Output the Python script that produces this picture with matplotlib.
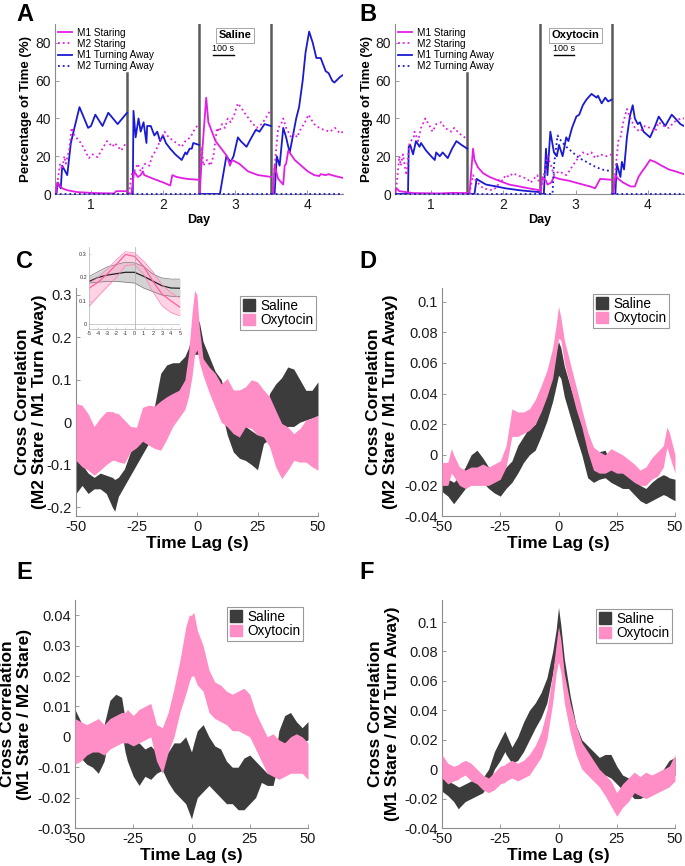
import numpy as np
import matplotlib
matplotlib.use('Agg')
import matplotlib.pyplot as plt
from matplotlib.patches import Patch
from matplotlib.lines import Line2D

plt.rcParams['font.family'] = ['Liberation Sans', 'DejaVu Sans']
plt.rcParams['axes.unicode_minus'] = False

MAGENTA = '#e31ee3'
BLUE = '#1a1ad0'
DARK = '#3c3c3c'
PINK = '#ff8ec6'
SPINE = '#8c8c8c'
SEP = '#5a5a5a'
TXT = '#1a1a1a'

# ---------------- Panel A / B data (x in days) ----------------
DAYS = [1, 2, 3, 4]
SEP_POS = [1.5, 2.5, 3.5]
SEP_TOP = [64, 90, 90]
SERIES_LABELS = ['M1 Staring', 'M2 Staring', 'M1 Turning Away', 'M2 Turning Away']

A_M1_STARE_X = [
    [0.51, 0.53, 0.60, 0.67, 0.81, 1.04, 1.32, 1.35, 1.50],
    [1.53, 1.56, 1.60, 1.65, 1.69, 1.72, 1.74, 1.87, 2.01, 2.10, 2.13, 2.19, 2.33, 2.50],
    [2.51, 2.54, 2.60, 2.63, 2.73, 2.89, 2.93, 2.96, 3.06, 3.18, 3.32, 3.42, 3.50],
    [3.53, 3.55, 3.60, 3.67, 3.69, 3.71, 3.74, 3.83, 3.92, 4.01, 4.10, 4.17, 4.19, 4.26, 4.30, 4.39, 4.50]]
A_M1_STARE_Y = [
    [0, 6, 3, 2, 1, 0.5, 0.3, 1.5, 1.5],
    [0, 0, 12, 9, 10, 12, 10, 8, 6, 4.5, 10, 9, 8, 7.5],
    [0, 20, 51, 38, 28, 20, 15, 18, 16, 12, 10, 9.5, 9],
    [0, 15, 8, 5, 15, 16, 23, 18, 15, 12, 10, 9.5, 10.5, 10, 10.5, 9.5, 8.5]]

A_M2_STARE_X = [
    [0.51, 0.53, 0.57, 0.60, 0.63, 0.65, 0.70, 0.73, 0.77, 0.86, 0.93, 0.97, 1.02, 1.09, 1.13, 1.22, 1.30, 1.33, 1.42, 1.47, 1.50],
    [1.53, 1.56, 1.60, 1.65, 1.69, 1.75, 1.81, 1.85, 1.90, 1.97, 2.02, 2.08, 2.15, 2.22, 2.26, 2.31, 2.38, 2.45, 2.50],
    [2.51, 2.52, 2.54, 2.56, 2.61, 2.66, 2.70, 2.75, 2.78, 2.82, 2.86, 2.90, 2.94, 2.99, 3.04, 3.08, 3.15, 3.23, 3.30, 3.37, 3.44, 3.50],
    [3.52, 3.55, 3.60, 3.64, 3.67, 3.71, 3.78, 3.83, 3.86, 3.92, 3.96, 4.02, 4.05, 4.10, 4.17, 4.23, 4.32, 4.39, 4.46, 4.50]]
A_M2_STARE_Y = [
    [0, 5, 16, 13, 20, 16, 24, 35, 31, 27, 22, 19, 21, 19.5, 22, 28, 25, 27, 23, 26, 26],
    [0, 10, 12, 16, 12, 16, 15, 20, 23, 29, 33, 30, 28, 26, 25, 28, 30, 35, 37],
    [0, 20, 25, 15, 18, 15, 20, 35, 33, 37, 35, 40, 38, 42, 48, 46, 42, 38, 35, 37, 41, 45],
    [0, 15, 35, 37, 40, 35, 30, 32, 30, 35, 37, 42, 40, 37, 35, 34, 33, 35, 32, 33]]

A_M1_TURN_X = [
    [0.52, 0.54, 0.58, 0.60, 0.67, 0.72, 0.77, 0.84, 0.96, 1.00, 1.06, 1.16, 1.24, 1.37, 1.50],
    [1.51, 1.58, 1.59, 1.62, 1.66, 1.69, 1.73, 1.77, 1.78, 1.83, 1.88, 1.92, 1.96, 2.00, 2.04, 2.10, 2.17, 2.26, 2.31, 2.33, 2.37, 2.40, 2.42, 2.50],
    [2.50, 2.79, 2.88, 2.94, 2.98, 3.01, 3.04, 3.08, 3.16, 3.23, 3.29, 3.34, 3.41, 3.50],
    [3.50, 3.55, 3.58, 3.62, 3.67, 3.71, 3.74, 3.76, 3.80, 3.85, 3.89, 3.94, 3.98, 4.03, 4.08, 4.13, 4.19, 4.26, 4.30, 4.35, 4.38, 4.46, 4.50]]
A_M1_TURN_Y = [
    [0, 6, 3, 15, 10, 27, 35, 46, 35, 36, 42, 36, 43, 37, 43],
    [0, 0, 44, 30, 40, 33, 38, 27, 36, 36, 31, 33, 28, 31, 27, 24, 21, 18, 22, 21, 24, 24, 27, 26],
    [0, 0, 20, 17, 20, 25, 30, 28, 25, 30, 34, 33, 37, 36],
    [0, 0, 20, 15, 35, 30, 25, 22, 30, 40, 46, 60, 75, 86, 80, 72, 72, 65, 64, 60, 59, 62, 63]]

A_M2_TURN_X = [[0.5, 1.5], [1.5, 2.5], [2.5, 3.5], [3.5, 4.5]]
A_M2_TURN_Y = [[0, 0], [0, 0], [0, 0], [0, 0]]

B_M1_STARE_X = [
    [0.50, 0.52, 0.56, 0.75, 1.12, 1.30, 1.50],
    [1.53, 1.58, 1.60, 1.65, 1.72, 1.81, 1.94, 2.08, 2.22, 2.35, 2.50],
    [2.51, 2.54, 2.59, 2.61, 2.66, 2.70, 2.77, 2.91, 3.05, 3.20, 3.27, 3.34, 3.50],
    [3.52, 3.55, 3.59, 3.66, 3.76, 3.82, 3.87, 3.92, 3.96, 4.03, 4.10, 4.19, 4.29, 4.38, 4.50]]
B_M1_STARE_Y = [
    [0, 3, 1.5, 0.5, 0.3, 0.6, 0.5],
    [0, 24, 18, 14, 11, 9, 7, 5, 4, 3, 2],
    [0, 9, 7, 5, 6, 9, 8, 7, 5.5, 4, 3, 8, 7.5],
    [0, 10, 8, 6, 4, 4, 9, 12, 14, 18, 17, 15, 13, 12, 10.5]]

B_M2_STARE_X = [
    [0.51, 0.54, 0.56, 0.58, 0.61, 0.63, 0.66, 0.70, 0.76, 0.77, 0.82, 0.86, 0.92, 0.98, 1.02, 1.07, 1.14, 1.19, 1.28, 1.32, 1.39, 1.50],
    [1.53, 1.58, 1.62, 1.72, 1.85, 1.92, 1.94, 1.99, 2.03, 2.08, 2.13, 2.19, 2.26, 2.33, 2.38, 2.42, 2.47, 2.50],
    [2.51, 2.55, 2.61, 2.66, 2.70, 2.77, 2.87, 2.91, 2.96, 3.05, 3.10, 3.17, 3.22, 3.27, 3.34, 3.43, 3.50],
    [3.52, 3.59, 3.62, 3.66, 3.71, 3.76, 3.82, 3.89, 3.96, 4.03, 4.10, 4.15, 4.22, 4.29, 4.36, 4.45, 4.50]]
B_M2_STARE_Y = [
    [0, 12, 20, 15, 21, 16, 10, 27, 30, 33, 28, 35, 40, 36, 33, 37, 38, 35, 33, 35, 32, 29],
    [0, 10, 7, 3, 2, 4, 8, 7, 10, 9, 11, 10, 9, 8, 6, 8, 10, 5],
    [0, 8, 20, 15, 10, 12, 10, 12, 15, 20, 22, 21, 22, 19, 21, 20, 21],
    [0, 28, 30, 38, 45, 40, 35, 33, 36, 35, 33, 38, 36, 35, 38, 40, 40]]

B_M1_TURN_X = [
    [0.50, 0.68, 0.69, 0.71, 0.75, 0.79, 0.84, 0.86, 0.93, 1.00, 1.05, 1.07, 1.12, 1.16, 1.23, 1.29, 1.35, 1.42, 1.50],
    [1.53, 1.60, 1.63, 1.67, 1.76, 1.90, 2.03, 2.22, 2.35, 2.50],
    [2.50, 2.56, 2.59, 2.61, 2.65, 2.70, 2.74, 2.77, 2.82, 2.87, 2.90, 2.95, 3.01, 3.05, 3.10, 3.15, 3.22, 3.29, 3.31, 3.36, 3.41, 3.45, 3.50],
    [3.50, 3.55, 3.57, 3.62, 3.64, 3.67, 3.71, 3.75, 3.79, 3.82, 3.86, 3.89, 3.94, 4.03, 4.10, 4.15, 4.24, 4.33, 4.38, 4.45, 4.50]]
B_M1_TURN_Y = [
    [0, 0, 25, 26, 21, 28, 25, 27, 23, 20, 18, 22, 20, 22, 19, 24, 28, 26, 24],
    [0, 0, 8, 7, 5, 4, 3, 2, 1.5, 1],
    [0, 0, 24, 10, 33, 22, 20, 26, 20, 30, 28, 35, 41, 42, 47, 50, 53, 51, 52, 48, 51, 49, 50],
    [0, 0, 16, 9, 17, 13, 30, 41, 47, 40, 37, 38, 33, 30, 36, 41, 36, 42, 40, 37, 36]]

B_M2_TURN_X = [[0.5, 1.5], [1.5, 2.5],
               [2.50, 2.68, 2.70, 2.75, 2.80, 2.87, 2.96, 3.05, 3.15, 3.24, 3.36, 3.50],
               [3.5, 4.5]]
B_M2_TURN_Y = [[0, 0], [0, 0],
               [0, 0, 15, 31, 28, 25, 22, 19, 17, 15, 13, 12],
               [0, 0]]

# ---------------- Panel C ----------------
LAG_C = [-50, -47.5, -45, -42.5, -40, -37.5, -35, -34, -32.5, -30, -27.5, -25, -22.5, -20, -17.5, -15,
         -12.5, -10, -7.5, -5, -3.5, -2, -1, 0, 1, 2.5, 5, 7.5, 10, 12.5, 15, 17.5, 20, 22.5, 25,
         27.5, 30, 32.5, 35, 37.5, 40, 42.5, 45, 47.5, 50]
C_SAL_LO = [-0.168, -0.149, -0.168, -0.157, -0.157, -0.168, -0.20, -0.21, -0.175, -0.15, -0.125, -0.10,
            -0.075, -0.05, -0.02, 0.03, 0.05, 0.06, 0.07, 0.09, 0.11, 0.14, 0.16, 0.16, 0.16, 0.12, 0.08,
            0.05, 0.03, -0.03, -0.07, -0.085, -0.09, -0.10, -0.112, -0.05, -0.04, -0.035, -0.02, -0.01,
            -0.01, 0.0, 0.005, 0.01, 0.015]
C_SAL_HI = [-0.09, -0.10, -0.12, -0.13, -0.12, -0.125, -0.13, -0.135, -0.13, -0.11, -0.07, -0.05, -0.03,
            0.0, 0.04, 0.115, 0.135, 0.14, 0.14, 0.155, 0.175, 0.21, 0.24, 0.245, 0.235, 0.19, 0.155,
            0.12, 0.10, 0.05, -0.015, -0.02, -0.01, -0.02, -0.03, 0.0, 0.068, 0.09, 0.105, 0.13, 0.125,
            0.10, 0.075, 0.075, 0.095]
C_OXY_LO = [-0.09, -0.105, -0.113, -0.125, -0.113, -0.10, -0.09, -0.09, -0.094, -0.097, -0.07, -0.06,
            -0.045, -0.054, -0.062, -0.066, -0.04, -0.01, 0.01, 0.03, 0.06, 0.11, 0.16, 0.17, 0.14,
            0.11, 0.07, 0.035, 0.0, -0.011, -0.027, -0.035, -0.011, -0.015, -0.03, -0.035, -0.058,
            -0.105, -0.133, -0.113, -0.09, -0.094, -0.094, -0.105, -0.113]
C_OXY_HI = [0.044, 0.04, 0.02, -0.01, 0.01, 0.025, 0.025, 0.022, 0.02, 0.005, -0.01, -0.012, 0.035,
            0.04, 0.038, 0.05, 0.06, 0.068, 0.075, 0.10, 0.16, 0.26, 0.31, 0.30, 0.22, 0.15, 0.13,
            0.115, 0.09, 0.103, 0.076, 0.076, 0.083, 0.10, 0.095, 0.076, 0.06, 0.028, -0.003, -0.011,
            -0.027, -0.015, 0.005, 0.009, 0.017]

# inset of C (lag -5..5)
INSET_LAG = [-5, -4, -3, -2, -1, 0, 1, 2, 3, 4, 5]
INSET_SAL_MEAN = [0.183, 0.20, 0.21, 0.216, 0.222, 0.222, 0.205, 0.185, 0.165, 0.155, 0.154]
INSET_SAL_HI = [0.204, 0.225, 0.245, 0.255, 0.265, 0.262, 0.247, 0.215, 0.198, 0.193, 0.193]
INSET_SAL_LO = [0.176, 0.18, 0.183, 0.183, 0.18, 0.176, 0.155, 0.14, 0.125, 0.12, 0.118]
INSET_OXY_MEAN = [0.154, 0.18, 0.215, 0.255, 0.298, 0.29, 0.247, 0.185, 0.13, 0.10, 0.073]
INSET_OXY_HI = [0.176, 0.20, 0.235, 0.275, 0.31, 0.305, 0.27, 0.225, 0.17, 0.135, 0.111]
INSET_OXY_LO = [0.076, 0.12, 0.16, 0.20, 0.25, 0.255, 0.215, 0.14, 0.08, 0.05, 0.036]

# ---------------- Panel D ----------------
LAG_D = [-50, -47.5, -46, -45, -42.5, -40, -37.5, -35, -32.5, -30, -27.5, -25, -22.5, -20, -17.5, -15,
         -12.5, -10, -7.5, -5, -2.5, -1, 0, 1, 2.5, 5, 7.5, 10, 12.5, 15, 17.5, 20, 22.5, 25, 27.5, 30,
         32.5, 35, 37.5, 40, 42.5, 45, 46.5, 47.5, 50]
D_SAL_LO = [-0.024, -0.027, -0.03, -0.032, -0.027, -0.022, -0.018, -0.015, -0.018, -0.022, -0.025, -0.027,
            -0.022, -0.018, -0.012, -0.005, 0.0, 0.003, 0.012, 0.022, 0.035, 0.045, 0.052, 0.05, 0.038,
            0.025, 0.012, 0.0, -0.015, -0.018, -0.016, -0.015, -0.018, -0.02, -0.022, -0.022, -0.026,
            -0.03, -0.032, -0.03, -0.028, -0.026, -0.027, -0.028, -0.03]
D_SAL_HI = [-0.0065, -0.016, -0.017, -0.018, -0.014, -0.008, 0.0, 0.003, -0.002, -0.008, -0.01, -0.012,
            -0.008, -0.004, 0.006, 0.012, 0.018, 0.02, 0.03, 0.042, 0.055, 0.068, 0.074, 0.07, 0.058,
            0.045, 0.032, 0.02, 0.005, -0.002, 0.002, 0.003, -0.005, -0.008, -0.01, -0.012, -0.016,
            -0.02, -0.022, -0.018, -0.015, -0.013, -0.014, -0.015, -0.016]
D_OXY_LO = [-0.02, -0.02, -0.012, -0.014, -0.02, -0.022, -0.02, -0.02, -0.02, -0.02, -0.018, -0.016,
            -0.008, 0.012, 0.012, 0.014, 0.016, 0.02, 0.028, 0.038, 0.05, 0.065, 0.076, 0.075, 0.06,
            0.045, 0.03, 0.018, 0.002, -0.01, -0.012, -0.012, -0.01, -0.012, -0.012, -0.015, -0.018,
            -0.02, -0.02, -0.016, -0.014, -0.008, 0.005, 0.0, -0.012]
D_OXY_HI = [-0.005, -0.005, 0.004, 0.0, -0.008, -0.01, -0.008, -0.008, -0.006, -0.008, -0.006, -0.004,
            0.006, 0.03, 0.028, 0.028, 0.03, 0.036, 0.045, 0.055, 0.07, 0.085, 0.097, 0.09, 0.075,
            0.06, 0.045, 0.03, 0.015, 0.005, 0.002, 0.0, 0.004, 0.002, 0.0, -0.003, -0.006, -0.01,
            -0.008, -0.002, 0.002, 0.006, 0.018, 0.015, 0.0]

# ---------------- Panel E ----------------
LAG_E = [-50, -47.5, -45, -42.5, -40, -37.5, -35, -32.5, -30, -28.5, -27.5, -25, -22.5, -20, -17.5, -15,
         -12.5, -10, -7.5, -5, -2.5, -1, 0, 1, 2.5, 5, 7.5, 10, 12.5, 15, 17.5, 20, 22.5, 25, 27.5, 30,
         32.5, 35, 37.5, 40, 42.5, 45, 47.5, 50]
E_SAL_LO = [-0.006, -0.007, -0.009, -0.01, -0.012, -0.008, 0.002, 0.004, 0.002, -0.005, -0.008, -0.013,
            -0.016, -0.013, -0.014, -0.012, -0.011, -0.015, -0.018, -0.02, -0.022, -0.025, -0.027,
            -0.024, -0.02, -0.018, -0.016, -0.018, -0.02, -0.022, -0.022, -0.024, -0.024, -0.022,
            -0.02, -0.015, -0.016, -0.016, -0.008, -0.002, -0.001, -0.001, -0.002, -0.001]
E_SAL_HI = [0.009, 0.005, 0.002, 0.0, -0.002, 0.004, 0.012, 0.014, 0.013, 0.006, 0.0, -0.002, -0.002,
            -0.004, -0.003, -0.005, -0.008, -0.005, -0.002, -0.002, 0.0, -0.003, -0.005, -0.002, 0.002,
            0.004, 0.0, -0.003, -0.004, -0.008, -0.01, -0.01, -0.007, -0.006, -0.008, -0.01, -0.012,
            -0.012, 0.002, 0.007, 0.008, 0.005, 0.003, 0.005]
E_OXY_LO = [-0.009, -0.008, -0.006, -0.005, -0.005, -0.006, -0.004, -0.003, -0.002, -0.002, -0.002,
            -0.003, -0.002, -0.001, 0.0, -0.008, -0.012, -0.005, 0.0, 0.008, 0.014, 0.018, 0.02, 0.02,
            0.017, 0.015, 0.008, 0.006, 0.005, 0.004, 0.002, 0.002, 0.001, 0.0, -0.004, -0.008, -0.012,
            -0.013, -0.014, -0.013, -0.012, -0.012, -0.012, -0.014]
E_OXY_HI = [0.006, 0.005, 0.004, 0.005, 0.006, 0.004, 0.006, 0.007, 0.008, 0.008, 0.009, 0.007, 0.009,
            0.01, 0.011, 0.004, 0.003, 0.008, 0.016, 0.025, 0.036, 0.04, 0.04, 0.041, 0.035, 0.03,
            0.022, 0.018, 0.017, 0.015, 0.014, 0.015, 0.016, 0.014, 0.008, 0.004, 0.0, 0.001, -0.001,
            -0.002, 0.0, 0.001, 0.0, -0.002]

# ---------------- Panel F ----------------
LAG_F = [-50, -47.5, -45, -43, -42.5, -40, -37.5, -35, -32.5, -30, -27.5, -25, -23, -22.5, -20, -17.5,
         -15, -12.5, -10, -7.5, -5, -2.5, -1, 0, 1, 2.5, 5, 7.5, 10, 12.5, 15, 17.5, 20, 22.5, 25, 27.5,
         30, 32.5, 35, 37.5, 40, 42.5, 45, 47.5, 50]
F_SAL_LO = [-0.015, -0.018, -0.022, -0.027, -0.026, -0.022, -0.02, -0.018, -0.016, -0.01, 0.0, 0.006,
            0.012, 0.01, 0.004, 0.006, 0.012, 0.02, 0.028, 0.035, 0.045, 0.065, 0.08, 0.09, 0.075, 0.055,
            0.032, 0.012, 0.005, 0.002, -0.002, -0.004, -0.004, -0.006, -0.01, -0.014, -0.016, -0.02,
            -0.02, -0.018, -0.016, -0.012, -0.01, -0.006, -0.004]
F_SAL_HI = [-0.005, -0.008, -0.01, -0.012, -0.012, -0.01, -0.008, -0.006, -0.006, 0.0, 0.012, 0.02,
            0.026, 0.024, 0.015, 0.022, 0.032, 0.04, 0.045, 0.052, 0.062, 0.08, 0.095, 0.11, 0.098,
            0.075, 0.05, 0.03, 0.02, 0.016, 0.012, 0.008, 0.01, 0.01, 0.002, -0.004, -0.006, -0.008,
            -0.006, -0.008, -0.006, -0.004, 0.0, 0.006, 0.008]
F_OXY_LO = [-0.006, -0.01, -0.008, -0.007, -0.006, -0.004, -0.008, -0.01, -0.014, -0.016, -0.014, -0.01,
            -0.009, -0.008, -0.006, -0.008, -0.006, -0.004, 0.002, 0.008, 0.02, 0.045, 0.065, 0.073,
            0.066, 0.045, 0.025, 0.01, 0.0, -0.004, -0.008, -0.012, -0.018, -0.025, -0.032, -0.026,
            -0.022, -0.016, -0.018, -0.02, -0.018, -0.016, -0.014, -0.012, -0.008]
F_OXY_HI = [0.01, 0.004, 0.002, 0.003, 0.004, 0.006, 0.004, 0.0, -0.004, -0.006, -0.002, 0.002, 0.003,
            0.004, 0.006, 0.004, 0.006, 0.01, 0.016, 0.025, 0.04, 0.065, 0.085, 0.097, 0.088, 0.065,
            0.045, 0.03, 0.018, 0.012, 0.006, 0.0, -0.004, -0.008, -0.016, -0.01, -0.006, -0.002,
            -0.005, -0.002, -0.004, -0.002, 0.0, 0.002, 0.01]

GROUP_LABELS = ['Saline', 'Oxytocin']
LAG_TICKS = [-50, -25, 0, 25, 50]

# =============================================================
fig = plt.figure(figsize=(6.85, 8.66), dpi=100)
W, H = 685.0, 866.0


def ax_px(left, top, right, bottom):
    return fig.add_axes([left / W, 1 - bottom / H, (right - left) / W, (bottom - top) / H])


def style_axes(ax, fs):
    for s in ['top', 'right']:
        ax.spines[s].set_visible(False)
    for s in ['left', 'bottom']:
        ax.spines[s].set_color(SPINE)
        ax.spines[s].set_linewidth(0.8)
    ax.tick_params(direction='in', length=3, width=0.6, color=SPINE, labelcolor=TXT,
                   labelsize=fs, pad=3)


def segs(xs, ys):
    x, y = [], []
    for sx, sy in zip(xs, ys):
        x += list(sx) + [np.nan]
        y += list(sy) + [np.nan]
    return x, y


def time_panel(ax, m1s, m2s, m1t, m2t, tag, ylabel_x):
    style_axes(ax, 10)
    ax.set_xlim(0.5, 4.5)
    ax.set_ylim(0, 90)
    for xpos, top in zip(SEP_POS, SEP_TOP):
        ax.plot([xpos, xpos], [0, top], color=SEP, lw=1.8, zorder=1)
    ax.plot(*segs(*m2t), color=BLUE, lw=1.3, ls=':', zorder=6, clip_on=False)
    ax.plot(*segs(*m1t), color=BLUE, lw=1.3, zorder=3)
    ax.plot(*segs(*m2s), color=MAGENTA, lw=1.3, ls=':', zorder=4)
    ax.plot(*segs(*m1s), color=MAGENTA, lw=1.3, zorder=5)
    ax.set_xticks(DAYS)
    ax.set_yticks([0, 20, 40, 60, 80])
    ax.set_xlabel('Day', fontsize=9, fontweight='bold', labelpad=1)
    ax.set_ylabel('Percentage of Time (%)', fontsize=9.5, fontweight='bold')
    ax.yaxis.set_label_coords(ylabel_x, 0.5)
    handles = [Line2D([], [], color=MAGENTA, lw=1.3),
               Line2D([], [], color=MAGENTA, lw=1.3, ls=':'),
               Line2D([], [], color=BLUE, lw=1.3),
               Line2D([], [], color=BLUE, lw=1.3, ls=':')]
    ax.legend(handles, SERIES_LABELS, loc='upper left', bbox_to_anchor=(0.012, 0.978),
              frameon=False, fontsize=7.2, handlelength=1.4, handletextpad=0.5,
              labelspacing=0.12, borderaxespad=0, borderpad=0)
    ax.text(3.0, 84, tag, ha='center', va='center', fontsize=8, fontweight='bold', zorder=7,
            bbox=dict(boxstyle='square,pad=0.2', fc='white', ec='#999999', lw=0.6))
    ax.text(2.84, 74.5, '100 s', ha='center', va='bottom', fontsize=6.5, zorder=7)
    ax.plot([2.70, 2.98], [73.5, 73.5], color='k', lw=1.0, zorder=7)


axA = ax_px(55, 24, 343, 194)
time_panel(axA, (A_M1_STARE_X, A_M1_STARE_Y), (A_M2_STARE_X, A_M2_STARE_Y),
           (A_M1_TURN_X, A_M1_TURN_Y), (A_M2_TURN_X, A_M2_TURN_Y), 'Saline', -0.08)
axB = ax_px(395, 24, 684, 194)
time_panel(axB, (B_M1_STARE_X, B_M1_STARE_Y), (B_M2_STARE_X, B_M2_STARE_Y),
           (B_M1_TURN_X, B_M1_TURN_Y), (B_M2_TURN_X, B_M2_TURN_Y), 'Oxytocin', -0.075)


def cc_panel(ax, lag, slo, shi, olo, ohi, yticks, ylim, ylabel, label_x, leg_px):
    style_axes(ax, 10.5)
    ax.fill_between(lag, slo, shi, color=DARK, lw=0, zorder=2)
    ax.fill_between(lag, olo, ohi, color=PINK, lw=0, zorder=3)
    ax.set_xlim(-50, 50)
    ax.set_ylim(*ylim)
    ax.set_xticks(LAG_TICKS)
    ax.set_xticklabels(['%g' % t for t in LAG_TICKS])
    ax.set_yticks(yticks)
    ax.set_yticklabels(['%g' % t for t in yticks])
    ax.set_xlabel('Time Lag (s)', fontsize=12.5, fontweight='bold', labelpad=1)
    ax.set_ylabel(ylabel, fontsize=12.5, fontweight='bold', linespacing=1.15)
    ax.yaxis.set_label_coords(label_x, 0.5)
    handles = [Patch(color=DARK), Patch(color=PINK)]
    leg = ax.legend(handles, GROUP_LABELS, loc='upper right',
                    bbox_to_anchor=(leg_px[0] / W, 1 - leg_px[1] / H), bbox_transform=fig.transFigure,
                    fontsize=9.8, frameon=True, fancybox=False, framealpha=1, edgecolor='#9a9a9a',
                    borderpad=0.2, handlelength=0.9, handleheight=0.9, handletextpad=0.35,
                    labelspacing=0.05, borderaxespad=0)
    leg.get_frame().set_linewidth(0.8)


axC = ax_px(76, 288, 318, 516)
cc_panel(axC, LAG_C, C_SAL_LO, C_SAL_HI, C_OXY_LO, C_OXY_HI,
         [-0.2, -0.1, 0, 0.1, 0.2, 0.3], (-0.221, 0.316),
         'Cross Correlation\n(M2 Stare / M1 Turn Away)', -0.12, (316, 296))
axD = ax_px(442, 288, 675, 516)
cc_panel(axD, LAG_D, D_SAL_LO, D_SAL_HI, D_OXY_LO, D_OXY_HI,
         [-0.04, -0.02, 0, 0.02, 0.04, 0.06, 0.08, 0.1], (-0.04, 0.109),
         'Cross Correlation\n(M2 Stare / M1 Turn Away)', -0.189, (669, 294))
axE = ax_px(75, 600, 308, 828)
cc_panel(axE, LAG_E, E_SAL_LO, E_SAL_HI, E_OXY_LO, E_OXY_HI,
         [-0.03, -0.02, -0.01, 0, 0.01, 0.02, 0.03, 0.04], (-0.03, 0.045),
         'Cross Correlation\n(M1 Stare / M2 Stare)', -0.185, (303, 607))
axF = ax_px(442, 600, 675, 828)
cc_panel(axF, LAG_F, F_SAL_LO, F_SAL_HI, F_OXY_LO, F_OXY_HI,
         [-0.04, -0.02, 0, 0.02, 0.04, 0.06, 0.08, 0.1], (-0.04, 0.115),
         'Cross Correlation\n(M1 Stare / M2 Turn Away)', -0.180, (672, 609))

# inset in C
axI = ax_px(89, 247, 180, 329)
axI.set_zorder(10)
for s in ['top', 'right']:
    axI.spines[s].set_visible(False)
for s in ['left', 'bottom']:
    axI.spines[s].set_color('#b0b0b0')
    axI.spines[s].set_linewidth(0.5)
axI.tick_params(direction='in', length=1.5, width=0.4, color='#b0b0b0', labelcolor='#333333',
                labelsize=4, pad=1.5)
axI.fill_between(INSET_LAG, INSET_SAL_LO, INSET_SAL_HI, color='#c9c9c9', alpha=0.8, lw=0)
axI.fill_between(INSET_LAG, INSET_OXY_LO, INSET_OXY_HI, color='#ffb6d3', alpha=0.6, lw=0)
axI.plot(INSET_LAG, INSET_SAL_HI, color='#777777', lw=0.5)
axI.plot(INSET_LAG, INSET_SAL_LO, color='#777777', lw=0.5)
axI.plot(INSET_LAG, INSET_SAL_MEAN, color='#222222', lw=0.9)
axI.plot(INSET_LAG, INSET_OXY_HI, color='#ff7fb3', lw=0.5)
axI.plot(INSET_LAG, INSET_OXY_LO, color='#ff7fb3', lw=0.5)
axI.plot(INSET_LAG, INSET_OXY_MEAN, color='#ff5fa0', lw=0.9)
axI.axvline(0, color='#aaaaaa', lw=0.5)
axI.axhline(0, color='#bbbbbb', lw=0.5)
axI.set_xlim(-5, 5)
axI.set_ylim(-0.02, 0.33)
axI.set_xticks(INSET_LAG)
axI.set_xticklabels(['%g' % t for t in INSET_LAG])
axI.set_yticks([0, 0.1, 0.2, 0.3])
axI.set_yticklabels(['0', '0.1', '0.2', '0.3'])

# panel letters
for letter, (px, py) in zip('ABCDEF', [(16, 3), (359, 3), (16, 250), (359, 250), (16, 561), (359, 561)]):
    fig.text(px / W, 1 - py / H, letter, fontsize=17, fontweight='bold', ha='left', va='top')

fig.savefig('out.png', dpi=100)
